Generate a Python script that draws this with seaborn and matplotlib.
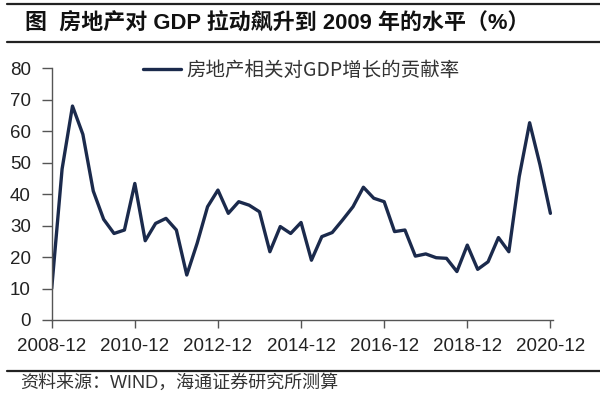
import numpy as np
import pandas as pd
import matplotlib
matplotlib.use("Agg")
import matplotlib.pyplot as plt
from matplotlib.lines import Line2D
import seaborn as sns

# ---- data (quarterly, 2008-12 .. 2020-12) ----
quarters = pd.period_range("2008Q4", "2020Q4", freq="Q").strftime("%Y-%m").tolist()
contribution = [10, 48, 68, 59, 41, 32, 27.5, 28.6, 43.4, 25.2, 30.7, 32.3, 28.6,
                14.3, 24.4, 36, 41.3, 33.9, 37.6, 36.5, 34.4, 21.7, 29.7, 27.5,
                31, 19, 26.5, 27.8, 31.8, 36, 42.2, 38.7, 37.6, 28.1, 28.6, 20.3,
                21, 19.8, 19.6, 15.4, 23.8, 16.1, 18.5, 26.2, 21.7, 45.6, 62.7,
                49.3, 33.9]
tick_labels = ["2008-12", "2010-12", "2012-12", "2014-12", "2016-12", "2018-12", "2020-12"]
yticks = [0, 10, 20, 30, 40, 50, 60, 70, 80]
series_name = "房地产相关对GDP增长的贡献率"
title = "图  房地产对 GDP 拉动飙升到 2009 年的水平（%）"
source = "资料来源：WIND，海通证券研究所测算"

df = pd.DataFrame({"idx": np.arange(len(contribution)), "quarter": quarters,
                   "value": contribution, "series": series_name})

sns.set_theme(style="white")
plt.rcParams["font.family"] = ["Liberation Sans", "Noto Sans CJK SC", "DejaVu Sans"]

fig = plt.figure(figsize=(6, 3.99), dpi=100)
ax = fig.add_axes([51.7 / 600, 1 - 320 / 399, (553 - 51.7) / 600, (320 - 68.3) / 399])

line_color = "#1b2a4c"
sns.lineplot(data=df, x="idx", y="value", hue="series", palette=[line_color],
             linewidth=2.4, ax=ax, legend=True)
for l in ax.lines:
    l.set_solid_joinstyle("round")
    l.set_solid_capstyle("round")

ax.set_xlim(0, 48.25)
ax.set_ylim(0, 80)
tick_pos = [quarters.index(t) for t in tick_labels]
ax.set_xticks(tick_pos)
ax.set_xticklabels(tick_labels, fontsize=13.5, color="#222222")
ax.set_yticks(yticks)
ax.set_yticklabels([str(v) for v in yticks], fontsize=13.5, color="#222222")
ax.set_xlabel("")
ax.set_ylabel("")

for s in ["top", "right"]:
    ax.spines[s].set_visible(False)
for s in ["left", "bottom"]:
    ax.spines[s].set_color("#555555")
    ax.spines[s].set_linewidth(1.0)
ax.tick_params(axis="x", direction="out", length=6, width=1, color="#555555", pad=7, bottom=True)
ax.tick_params(axis="y", direction="out", length=7, width=1, color="#555555", pad=8, left=True)

handles, labels = ax.get_legend_handles_labels()
leg = ax.legend(handles, labels, loc="upper left", frameon=False,
                bbox_to_anchor=(143 / 600, 1 - 60 / 399), bbox_transform=fig.transFigure,
                borderpad=0, borderaxespad=0, handlelength=1.95, handletextpad=0.3,
                prop={"family": ["Noto Sans CJK SC"], "size": 14})
for t in leg.get_texts():
    t.set_color("#333333")

# title, rules, source
for y in [3.5, 42, 370.5]:
    fig.add_artist(Line2D([7 / 600, 1.0], [1 - y / 399, 1 - y / 399],
                          transform=fig.transFigure, color="#222222", linewidth=1.6))
fig.text(25 / 600, 1 - 22.5 / 399, title, fontsize=15.8, fontweight="bold",
         va="center", ha="left", color="#111111",
         family=["Liberation Sans", "Noto Sans CJK SC"])
fig.text(20 / 600, 1 - 383 / 399, source, fontsize=13, va="center", ha="left",
         color="#333333", family=["Liberation Sans", "Noto Sans CJK SC"])

fig.savefig("out.png", dpi=100)
